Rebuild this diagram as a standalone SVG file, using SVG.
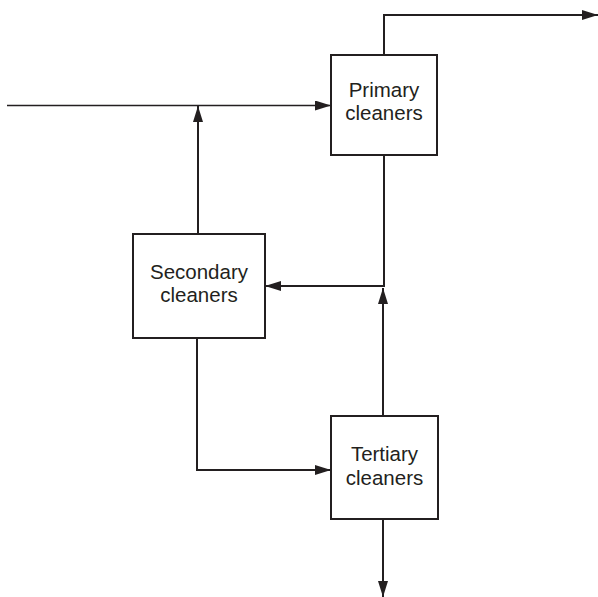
<svg xmlns="http://www.w3.org/2000/svg" width="598" height="597" viewBox="0 0 598 597">
  <style>
    .box { fill: #ffffff; stroke: #231f20; stroke-width: 2; }
    .lbl { font-family: "Liberation Sans", Arial, sans-serif; font-size: 20.5px; fill: #231f20; text-anchor: middle; }
    .flow { fill: none; stroke: #231f20; stroke-width: 2; }
    .thin { stroke-width: 1.5; }
  </style>
  <defs>
    <marker id="arrow" viewBox="0 0 16 10" refX="16" refY="5" markerWidth="16" markerHeight="10" markerUnits="userSpaceOnUse" orient="auto">
      <path d="M0,0 L16,5 L0,10 Z" fill="#231f20"/>
    </marker>
  </defs>

  <g id="connectors">
    <!-- feed into primary cleaners -->
    <line class="flow thin" x1="7" y1="105.5" x2="331" y2="105.5" marker-end="url(#arrow)"/>
    <!-- accepts out of primary cleaners -->
    <polyline class="flow" points="384,55 384,15 598,15" marker-end="url(#arrow)"/>
    <!-- primary rejects to secondary cleaners -->
    <polyline class="flow" points="384,155 384,286 265,286" marker-end="url(#arrow)"/>
    <!-- secondary accepts back to feed -->
    <line class="flow" x1="198" y1="234" x2="198" y2="106" marker-end="url(#arrow)"/>
    <!-- secondary rejects to tertiary cleaners -->
    <polyline class="flow" points="197,338 197,470 331,470" marker-end="url(#arrow)"/>
    <!-- tertiary accepts back up -->
    <line class="flow" x1="383" y1="416" x2="383" y2="288" marker-end="url(#arrow)"/>
    <!-- tertiary rejects out -->
    <line class="flow" x1="383" y1="519" x2="383" y2="597" marker-end="url(#arrow)"/>
  </g>

  <g id="primary">
    <rect class="box" x="331" y="55" width="106" height="100"/>
    <text class="lbl" x="384" y="96.5">Primary</text>
    <text class="lbl" x="384" y="120">cleaners</text>
  </g>

  <g id="secondary">
    <rect class="box" x="133" y="234" width="132" height="104"/>
    <text class="lbl" x="199" y="278.5">Secondary</text>
    <text class="lbl" x="199" y="302">cleaners</text>
  </g>

  <g id="tertiary">
    <rect class="box" x="331" y="416" width="107" height="103"/>
    <text class="lbl" x="384.5" y="461">Tertiary</text>
    <text class="lbl" x="384.5" y="484.5">cleaners</text>
  </g>
</svg>
